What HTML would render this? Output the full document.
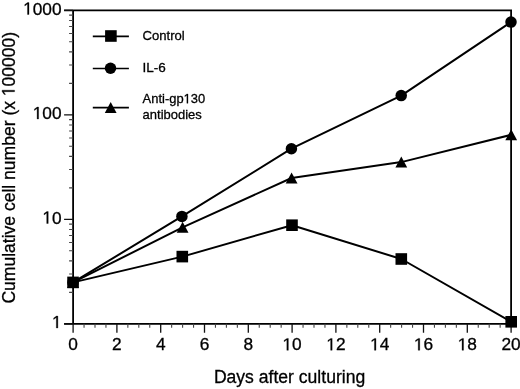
<!DOCTYPE html><html><head><meta charset="utf-8"><style>html,body{margin:0;padding:0;background:#fff;}svg{display:block;will-change:transform;}text{font-family:"Liberation Sans",sans-serif;fill:#000;stroke:#000;stroke-width:0.30px;}</style></head><body>
<svg width="520" height="389" viewBox="0 0 520 389">
<rect width="520" height="389" fill="#fff"/>
<g stroke="#000" stroke-width="1.8" fill="none" stroke-linecap="butt">
<path d="M64.10 10.30H511.10V323.80M73.10 9.40V323.80M64.10 323.80H511.10"/>
</g>
<path d="M64.10 323.80H73.10M64.10 219.30H73.10M64.10 114.80H73.10M64.10 10.30H73.10M73.10 323.80V332.80M116.90 323.80V332.80M160.70 323.80V332.80M204.50 323.80V332.80M248.30 323.80V332.80M292.10 323.80V332.80M335.90 323.80V332.80M379.70 323.80V332.80M423.50 323.80V332.80M467.30 323.80V332.80M511.10 323.80V332.80" stroke="#111" stroke-width="1.3" fill="none"/>
<path d="M69.10 292.34H73.10M69.10 273.94H73.10M69.10 260.88H73.10M69.10 250.76H73.10M69.10 242.48H73.10M69.10 235.49H73.10M69.10 229.43H73.10M69.10 224.08H73.10M69.10 187.84H73.10M69.10 169.44H73.10M69.10 156.38H73.10M69.10 146.26H73.10M69.10 137.98H73.10M69.10 130.99H73.10M69.10 124.93H73.10M69.10 119.58H73.10M69.10 83.34H73.10M69.10 64.94H73.10M69.10 51.88H73.10M69.10 41.76H73.10M69.10 33.48H73.10M69.10 26.49H73.10M69.10 20.43H73.10M69.10 15.08H73.10M84.05 323.80V327.80M95.00 323.80V327.80M105.95 323.80V327.80M127.85 323.80V327.80M138.80 323.80V327.80M149.75 323.80V327.80M171.65 323.80V327.80M182.60 323.80V327.80M193.55 323.80V327.80M215.45 323.80V327.80M226.40 323.80V327.80M237.35 323.80V327.80M259.25 323.80V327.80M270.20 323.80V327.80M281.15 323.80V327.80M303.05 323.80V327.80M314.00 323.80V327.80M324.95 323.80V327.80M346.85 323.80V327.80M357.80 323.80V327.80M368.75 323.80V327.80M390.65 323.80V327.80M401.60 323.80V327.80M412.55 323.80V327.80M434.45 323.80V327.80M445.40 323.80V327.80M456.35 323.80V327.80M478.25 323.80V327.80M489.20 323.80V327.80M500.15 323.80V327.80" stroke="#444" stroke-width="1.1" fill="none"/>
<path d="M56.33 328.00 L57.86 328.00 L57.86 316.10 L56.46 316.10 L53.65 318.03 L53.65 319.47 L56.33 317.55Z" fill="#000" stroke="#000" stroke-width="0.3"/>
<path d="M46.71 223.50 L48.24 223.50 L48.24 211.60 L46.84 211.60 L44.03 213.53 L44.03 214.97 L46.71 213.05Z" fill="#000" stroke="#000" stroke-width="0.3"/><text x="51.98" y="223.50" font-size="17.3">0</text>
<path d="M37.09 119.00 L38.62 119.00 L38.62 107.10 L37.22 107.10 L34.41 109.03 L34.41 110.47 L37.09 108.55Z" fill="#000" stroke="#000" stroke-width="0.3"/><text x="42.36" y="119.00" font-size="17.3">0</text><text x="51.98" y="119.00" font-size="17.3">0</text>
<path d="M27.48 14.50 L29.00 14.50 L29.00 2.60 L27.60 2.60 L24.79 4.53 L24.79 5.97 L27.48 4.05Z" fill="#000" stroke="#000" stroke-width="0.3"/><text x="32.74" y="14.50" font-size="17.3">0</text><text x="42.36" y="14.50" font-size="17.3">0</text><text x="51.98" y="14.50" font-size="17.3">0</text>
<text x="68.29" y="350.30" font-size="17.3">0</text>
<text x="112.09" y="350.30" font-size="17.3">2</text>
<text x="155.89" y="350.30" font-size="17.3">4</text>
<text x="199.69" y="350.30" font-size="17.3">6</text>
<text x="243.49" y="350.30" font-size="17.3">8</text>
<path d="M286.83 350.30 L288.36 350.30 L288.36 338.40 L286.96 338.40 L284.15 340.33 L284.15 341.77 L286.83 339.85Z" fill="#000" stroke="#000" stroke-width="0.3"/><text x="292.10" y="350.30" font-size="17.3">0</text>
<path d="M330.63 350.30 L332.16 350.30 L332.16 338.40 L330.76 338.40 L327.95 340.33 L327.95 341.77 L330.63 339.85Z" fill="#000" stroke="#000" stroke-width="0.3"/><text x="335.90" y="350.30" font-size="17.3">2</text>
<path d="M374.43 350.30 L375.96 350.30 L375.96 338.40 L374.56 338.40 L371.75 340.33 L371.75 341.77 L374.43 339.85Z" fill="#000" stroke="#000" stroke-width="0.3"/><text x="379.70" y="350.30" font-size="17.3">4</text>
<path d="M418.23 350.30 L419.76 350.30 L419.76 338.40 L418.36 338.40 L415.55 340.33 L415.55 341.77 L418.23 339.85Z" fill="#000" stroke="#000" stroke-width="0.3"/><text x="423.50" y="350.30" font-size="17.3">6</text>
<path d="M462.03 350.30 L463.56 350.30 L463.56 338.40 L462.16 338.40 L459.35 340.33 L459.35 341.77 L462.03 339.85Z" fill="#000" stroke="#000" stroke-width="0.3"/><text x="467.30" y="350.30" font-size="17.3">8</text>
<text x="501.48" y="350.30" font-size="17.3">2</text><text x="511.10" y="350.30" font-size="17.3">0</text>
<text x="213.9" y="383.1" font-size="18" textLength="151.3" lengthAdjust="spacingAndGlyphs">Days after culturing</text>
<g transform="translate(14.6 303.6) rotate(-90)"><text id="ylab" x="0" y="0" font-size="18.2" textLength="271.8" lengthAdjust="spacingAndGlyphs">Cumulative cell number (x &#x2007;00000)</text><path d="M211.88 0.00 L213.43 0.00 L213.43 -12.52 L212.01 -12.52 L209.15 -10.49 L209.15 -8.98 L211.88 -10.99Z" fill="#000" stroke="#000" stroke-width="0.3"/></g>
<g stroke="#000" stroke-width="2" fill="none" stroke-linejoin="round">
<path d="M73.05 282.40 L182.30 256.60 L292.00 225.20 L401.30 259.00 L511.20 321.80"/>
<path d="M73.00 282.40 L181.90 216.40 L291.40 148.70 L401.20 95.60 L511.00 22.10"/>
<path d="M73.00 282.40 L182.60 227.35 L291.60 178.00 L401.30 162.10 L511.20 134.80"/>
</g>
<g fill="#000" stroke="none">
<path d="M73.00 276.90L78.90 287.90L67.10 287.90Z"/>
<path d="M182.60 221.85L188.50 232.85L176.70 232.85Z"/>
<path d="M291.60 172.50L297.50 183.50L285.70 183.50Z"/>
<path d="M401.30 156.60L407.20 167.60L395.40 167.60Z"/>
<path d="M511.20 129.30L517.10 140.30L505.30 140.30Z"/>
<circle cx="73.00" cy="282.40" r="5.75"/>
<circle cx="181.90" cy="216.40" r="5.75"/>
<circle cx="291.40" cy="148.70" r="5.75"/>
<circle cx="401.20" cy="95.60" r="5.75"/>
<circle cx="511.00" cy="22.10" r="5.75"/>
<rect x="67.25" y="276.60" width="11.6" height="11.6"/>
<rect x="176.50" y="250.80" width="11.6" height="11.6"/>
<rect x="286.20" y="219.40" width="11.6" height="11.6"/>
<rect x="395.50" y="253.20" width="11.6" height="11.6"/>
<rect x="505.40" y="316.00" width="11.6" height="11.6"/>
</g>
<g stroke="#000" stroke-width="1.7" fill="none">
<path d="M92.8 36.4H128.9"/>
<path d="M92.8 68.5H128.9"/>
<path d="M92.8 107.7H128.9"/>
</g>
<g fill="#000">
<rect x="105.10" y="30.20" width="11.6" height="11.6"/>
<circle cx="110.50" cy="68.30" r="5.75"/>
<path d="M110.70 102.10L116.60 113.10L104.80 113.10Z"/>
</g>
<text x="142.6" y="40.2" font-size="13.5" textLength="42.2" lengthAdjust="spacingAndGlyphs">Control</text>
<text x="142.6" y="72.3" font-size="13.5">IL-6</text>
<text id="anti" x="142.6" y="103.3" font-size="13.5" textLength="62.6" lengthAdjust="spacingAndGlyphs">Anti-gp&#x2007;30</text><path d="M186.85 103.30 L188.00 103.30 L188.00 94.01 L186.95 94.01 L184.84 95.52 L184.84 96.64 L186.85 95.15Z" fill="#000" stroke="#000" stroke-width="0.3"/>
<text x="142.6" y="118.7" font-size="13.5" textLength="59.2" lengthAdjust="spacingAndGlyphs">antibodies</text>
</svg></body></html>
